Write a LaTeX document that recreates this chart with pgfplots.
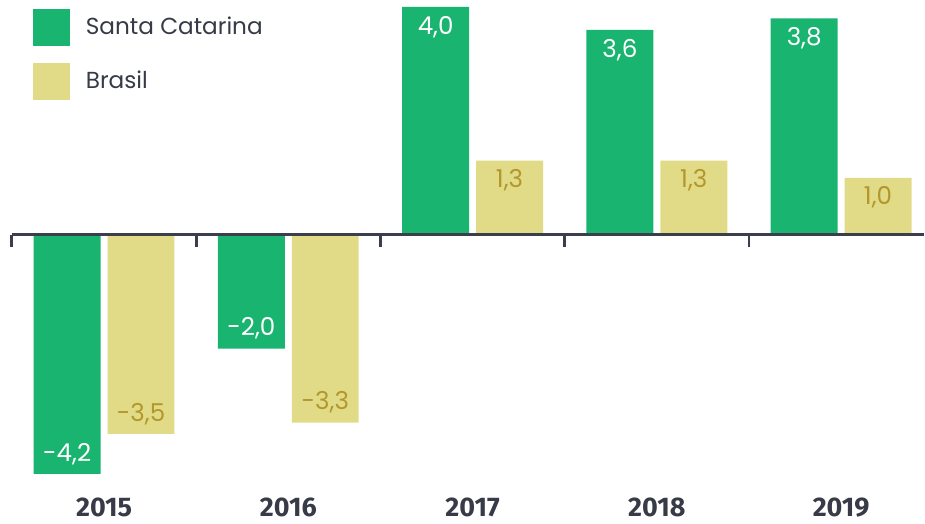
\documentclass[border=0pt]{standalone}
\usepackage{fontspec}
\setmainfont{Poppins}
\newfontfamily\yearfont{Fira Sans}
\usepackage{pgfplots}
\pgfplotsset{compat=1.18}
\definecolor{scgreen}{HTML}{19B46F}
\definecolor{bryellow}{HTML}{E1DB87}
\definecolor{brtext}{HTML}{B3972C}
\definecolor{axisgray}{HTML}{3B3F4C}
\definecolor{yeargray}{HTML}{363B47}
\begin{document}
\begin{tikzpicture}
\begin{axis}[
  width=462.5pt, height=261.5pt, scale only axis,
  xmin=-0.565, xmax=4.4485, ymin=-5.0526, ymax=4.1228,
  hide axis, clip=false,
  bar width=0.363,
  /pgf/number format/.cd, use comma, fixed, fixed zerofill, precision=1, assume math mode=true, /pgfplots/.cd,
  nodes near coords={\pgfmathprintnumber{\pgfplotspointmeta}},
  visualization depends on=rawy \as \rawy,
  every node near coord/.append style={anchor=center, yshift={(\rawy>0)*(-10)+(\rawy<0)*10}, font=\fontsize{12.3}{14}\selectfont},
  legend image code/.code={\fill[#1] (0pt,-9.25pt) rectangle (18.5pt,9.25pt);},
  legend cell align=left,
  legend style={at={(rel axis cs:0,1)}, anchor=north west, xshift=16.5pt, yshift=-4.5pt,
    draw=none, fill=none, inner sep=0pt, outer sep=0pt, row sep=8.5pt, column sep=8pt,
    nodes={inner sep=0pt, text=yeargray, font=\fontsize{11.6}{13}\selectfont}},
]
\path (rel axis cs:0,0) rectangle (rel axis cs:1,1);
\addplot[ybar, bar shift=-0.2005, fill=scgreen, draw=none,
  every node near coord/.append style={text=white, xshift=-18.5pt}]
  coordinates {(0,-4.2) (1,-2.0) (2,4.0) (3,3.6) (4,3.8)};
\addlegendentry{Santa Catarina}
\addplot[ybar, bar shift=0.2005, fill=bryellow, draw=none,
  every node near coord/.append style={text=brtext, xshift=18.5pt}]
  coordinates {(0,-3.5) (1,-3.3) (2,1.3) (3,1.3) (4,1.0)};
\addlegendentry{Brasil}
\draw[axisgray, line width=1.25pt] (axis cs:-0.5,0) -- (axis cs:4.4485,0);
\draw[axisgray, line width=1.5pt] (axis cs:-0.5,0) -- (axis cs:-0.5,-0.21);
\draw[axisgray, line width=1.5pt] (axis cs:0.5,0) -- (axis cs:0.5,-0.21);
\draw[axisgray, line width=1.5pt] (axis cs:1.5,0) -- (axis cs:1.5,-0.21);
\draw[axisgray, line width=1.5pt] (axis cs:2.5,0) -- (axis cs:2.5,-0.21);
\draw[axisgray, line width=1.5pt] (axis cs:3.5,0) -- (axis cs:3.5,-0.21);
\node[font=\yearfont\bfseries\fontsize{13.5}{15}\selectfont, text=yeargray] at (axis cs:0,-4.79) {2015};
\node[font=\yearfont\bfseries\fontsize{13.5}{15}\selectfont, text=yeargray] at (axis cs:1,-4.79) {2016};
\node[font=\yearfont\bfseries\fontsize{13.5}{15}\selectfont, text=yeargray] at (axis cs:2,-4.79) {2017};
\node[font=\yearfont\bfseries\fontsize{13.5}{15}\selectfont, text=yeargray] at (axis cs:3,-4.79) {2018};
\node[font=\yearfont\bfseries\fontsize{13.5}{15}\selectfont, text=yeargray] at (axis cs:4,-4.79) {2019};
\end{axis}
\end{tikzpicture}
\end{document}
